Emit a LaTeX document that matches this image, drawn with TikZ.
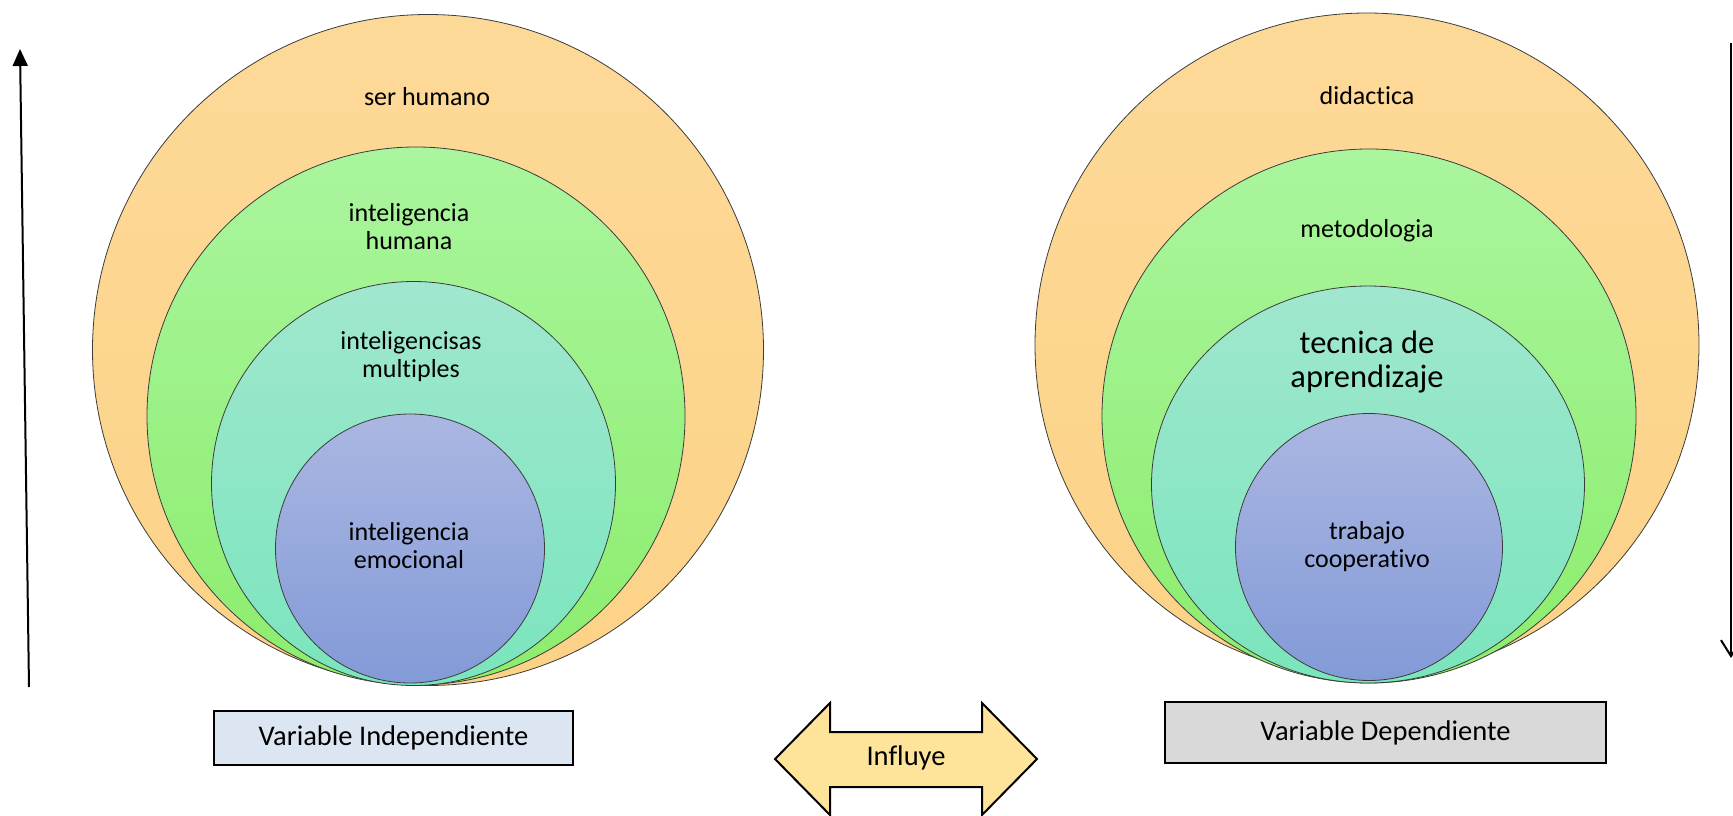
\documentclass[tikz,border=0pt]{standalone}
\usepackage{fontspec}
\setmainfont[Ligatures=NoCommon]{Carlito}
\usetikzlibrary{arrows.meta}
\definecolor{orT}{RGB}{253,217,152}
\definecolor{orB}{RGB}{252,210,135}
\definecolor{grT}{RGB}{170,245,158}
\definecolor{grB}{RGB}{140,237,108}
\definecolor{tlT}{RGB}{160,231,206}
\definecolor{tlB}{RGB}{122,229,189}
\definecolor{blT}{RGB}{171,183,226}
\definecolor{blB}{RGB}{130,154,215}
\definecolor{edgec}{RGB}{60,60,60}
\definecolor{vifill}{RGB}{220,230,242}
\definecolor{vdfill}{RGB}{217,217,217}
\definecolor{arrfill}{RGB}{254,228,154}
\tikzset{
  ring/.style={draw=edgec, line width=0.8pt},
  orangering/.style={ring, top color=orT, bottom color=orB},
  greenring/.style={ring, top color=grT, bottom color=grB},
  tealring/.style={ring, top color=tlT, bottom color=tlB},
  bluering/.style={ring, top color=blT, bottom color=blB},
  lbl/.style={align=center, inner sep=0pt, font=\fontsize{26}{28}\selectfont},
  biglbl/.style={align=center, inner sep=0pt, font=\fontsize{32.5}{34}\selectfont},
  varbox/.style={draw=black, line width=2pt, inner sep=0pt, font=\fontsize{28.5}{30}\selectfont},
  axisline/.style={line width=2pt, black}
}
\begin{document}
\begin{tikzpicture}[x=1pt,y=-1pt]
\useasboundingbox (0,0) rectangle (1733,816);
\begin{scope}
\clip (0,0) rectangle (1733,816);
% left set
\path[orangering] (428,350) circle[radius=335.5pt];
\path[greenring] (416,416) circle[radius=269pt];
\path[tealring] (413.5,483.5) circle[radius=202pt];
\path[bluering] (410,548.5) circle[radius=134.5pt];
% right set
\path[orangering] (1367,345) circle[radius=332pt];
\path[greenring] (1369,416) circle[radius=267pt];
\path[tealring] (1368,484.5) ellipse[x radius=216.5pt, y radius=198.5pt];
\path[bluering] (1369,547) circle[radius=133.5pt];

\node[lbl] (sh) at (427,97) {ser humano};
\node[lbl] (ih) at (409,227) {inteligencia\\humana};
\node[lbl] (im) at (411,356.5) {inteligencisas\\multiples};
\node[lbl] (ie) at (409,546) {inteligencia\\emocional};

\node[lbl] (di) at (1367,96) {didactica};
\node[lbl] (me) at (1367,231) {metodologia};
\node[biglbl] (ta) at (1367,362) {tecnica de\\aprendizaje};
\node[lbl] (tc) at (1367,546.5) {trabajo\\cooperativo};

% boxes
\node[varbox, fill=vifill, minimum width=359pt, minimum height=54pt] (vi) at (393.5,738) {Variable Independiente};
\node[varbox, fill=vdfill, minimum width=441pt, minimum height=61pt] (vd) at (1385.5,732.5) {Variable Dependiente};

% double arrow
\draw[line width=2pt, fill=arrfill, line join=miter]
  (775,759) -- (830,703) -- (830,732) -- (982,732) -- (982,703) -- (1037,759)
  -- (982,815) -- (982,787) -- (830,787) -- (830,815) -- cycle;
\node[inner sep=0pt, font=\fontsize{28.5}{30}\selectfont] (inf) at (906,758) {Influye};

% axes
\coordinate (la0) at (29,687);
\coordinate (la1) at (20,49);
\draw[axisline, -{Triangle[length=17pt,width=15pt]}] (la0) -- (la1);
\coordinate (ra0) at (1731,43);
\coordinate (ra1) at (1731,658);
\draw[axisline, -{Straight Barb[length=16pt,width=20pt]}] (ra0) -- (ra1);
\end{scope}
\end{tikzpicture}
\end{document}
